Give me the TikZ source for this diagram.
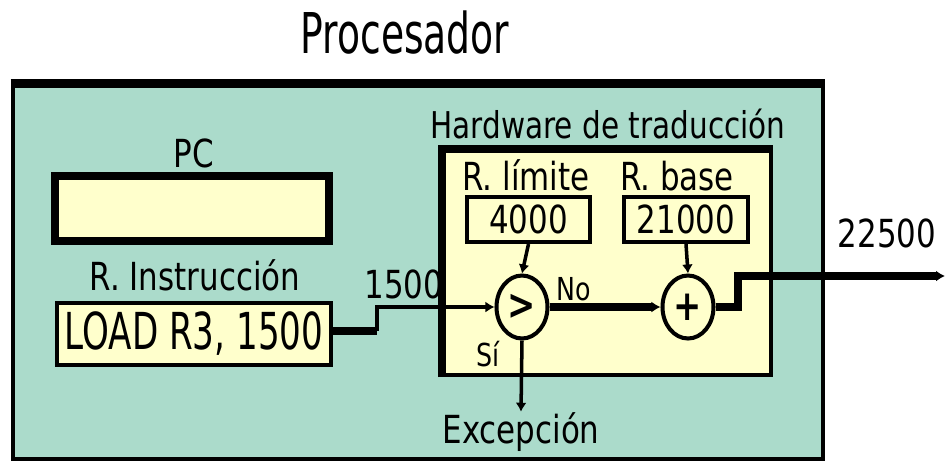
\documentclass[tikz,border=0pt]{standalone}
\usepackage{fontspec}
\setmainfont{DejaVu Sans}[FakeStretch=0.8]
\newfontfamily\narrowfont{DejaVu Sans}[FakeStretch=0.67]
\usetikzlibrary{positioning,arrows.meta,shapes.geometric}
\definecolor{cpuback}{RGB}{171,219,203}
\definecolor{regback}{RGB}{255,255,204}

\begin{document}
\begin{tikzpicture}[x=0.02cm, y=-0.02cm, font=\fontsize{22}{24}\selectfont,
  >={Latex[length=1.8mm,width=2.2mm]},
  lbl/.style={inner sep=0pt, anchor=base},
  reg/.style={draw=black, fill=regback, line width=2.3pt, inner sep=0pt},
  unit/.style={ellipse, draw=black, fill=regback, line width=2.3pt, inner sep=0pt,
               minimum width=1.02cm, minimum height=1.26cm, font=\fontsize{24}{24}\selectfont\bfseries},
  thin/.style={line width=2pt},
  bus/.style={line width=4.5pt}]
\useasboundingbox (0,0) rectangle (947,461);
% processor frame
\node[lbl, font=\narrowfont\fontsize{32}{34}\selectfont] (title) at (405,53) {Procesador};
\node[draw=black, fill=cpuback, line width=2.3pt, minimum width=16.22cm, minimum height=7.48cm] (cpu) at (418,272) {};
\draw[line width=5.1pt] (cpu.north west) -- (cpu.north east);
% PC and instruction register
\node[lbl] (pclbl) at (194,167) {PC};
\node[reg, line width=4.5pt, minimum width=5.48cm, minimum height=1.3cm] (pc) at (192,208.5) {};
\node[lbl] (irlbl) at (195,290) {R. Instrucción};
\node[reg, minimum width=5.48cm, minimum height=1.24cm, font=\narrowfont\fontsize{29}{30}\selectfont] (ir) at (194,334) {LOAD R3, 1500};
% translation hardware
\node[lbl, font=\fontsize{21}{23}\selectfont] (hwlbl) at (608,138) {Hardware de traducción};
\node[reg, minimum width=6.54cm, minimum height=4.48cm] (hw) at (607.5,263) {};
\draw[line width=4.5pt] (hw.south west) -- (hw.north west) -- (hw.north east);
\node[lbl] (limlbl) at (526,190) {R. límite};
\node[reg, minimum width=2.46cm, minimum height=0.9cm] (rlim) at (528.5,219.5) {4000};
\node[lbl] (baselbl) at (677,190) {R. base};
\node[reg, minimum width=2.48cm, minimum height=0.9cm] (rbase) at (686,219.5) {21000};
\node[unit] (cmp) at (522,307) {>};
\node[unit] (add) at (688,307) {+};
\node[lbl, font=\fontsize{18}{20}\selectfont] (no) at (574,300) {No};
\node[lbl, font=\fontsize{18}{20}\selectfont] (si) at (488,366) {Sí};
% connections
\coordinate (bend) at (377,331);
\coordinate (kink) at (738,276);
\coordinate (out) at (945,276);
\node[lbl] (inval) at (404,298) {1500};
\node[lbl] (outval) at (887,247) {22500};
\node[lbl] (exc) at (521,443) {Excepción};
\draw[bus] (ir.east |- bend) -- (bend);
\draw[thin,->] (bend) |- (cmp.west);
\draw[thin,->] (rlim.south) -- (cmp.north);
\draw[thin,->] (rbase.south) -- (add.north);
\draw[bus,->] (cmp.east) -- (add.west);
\draw[bus,->] (add.east) -| (kink) -- (out);
\draw[thin,->] (cmp.south) -- (exc.north);
\end{tikzpicture}
\end{document}
